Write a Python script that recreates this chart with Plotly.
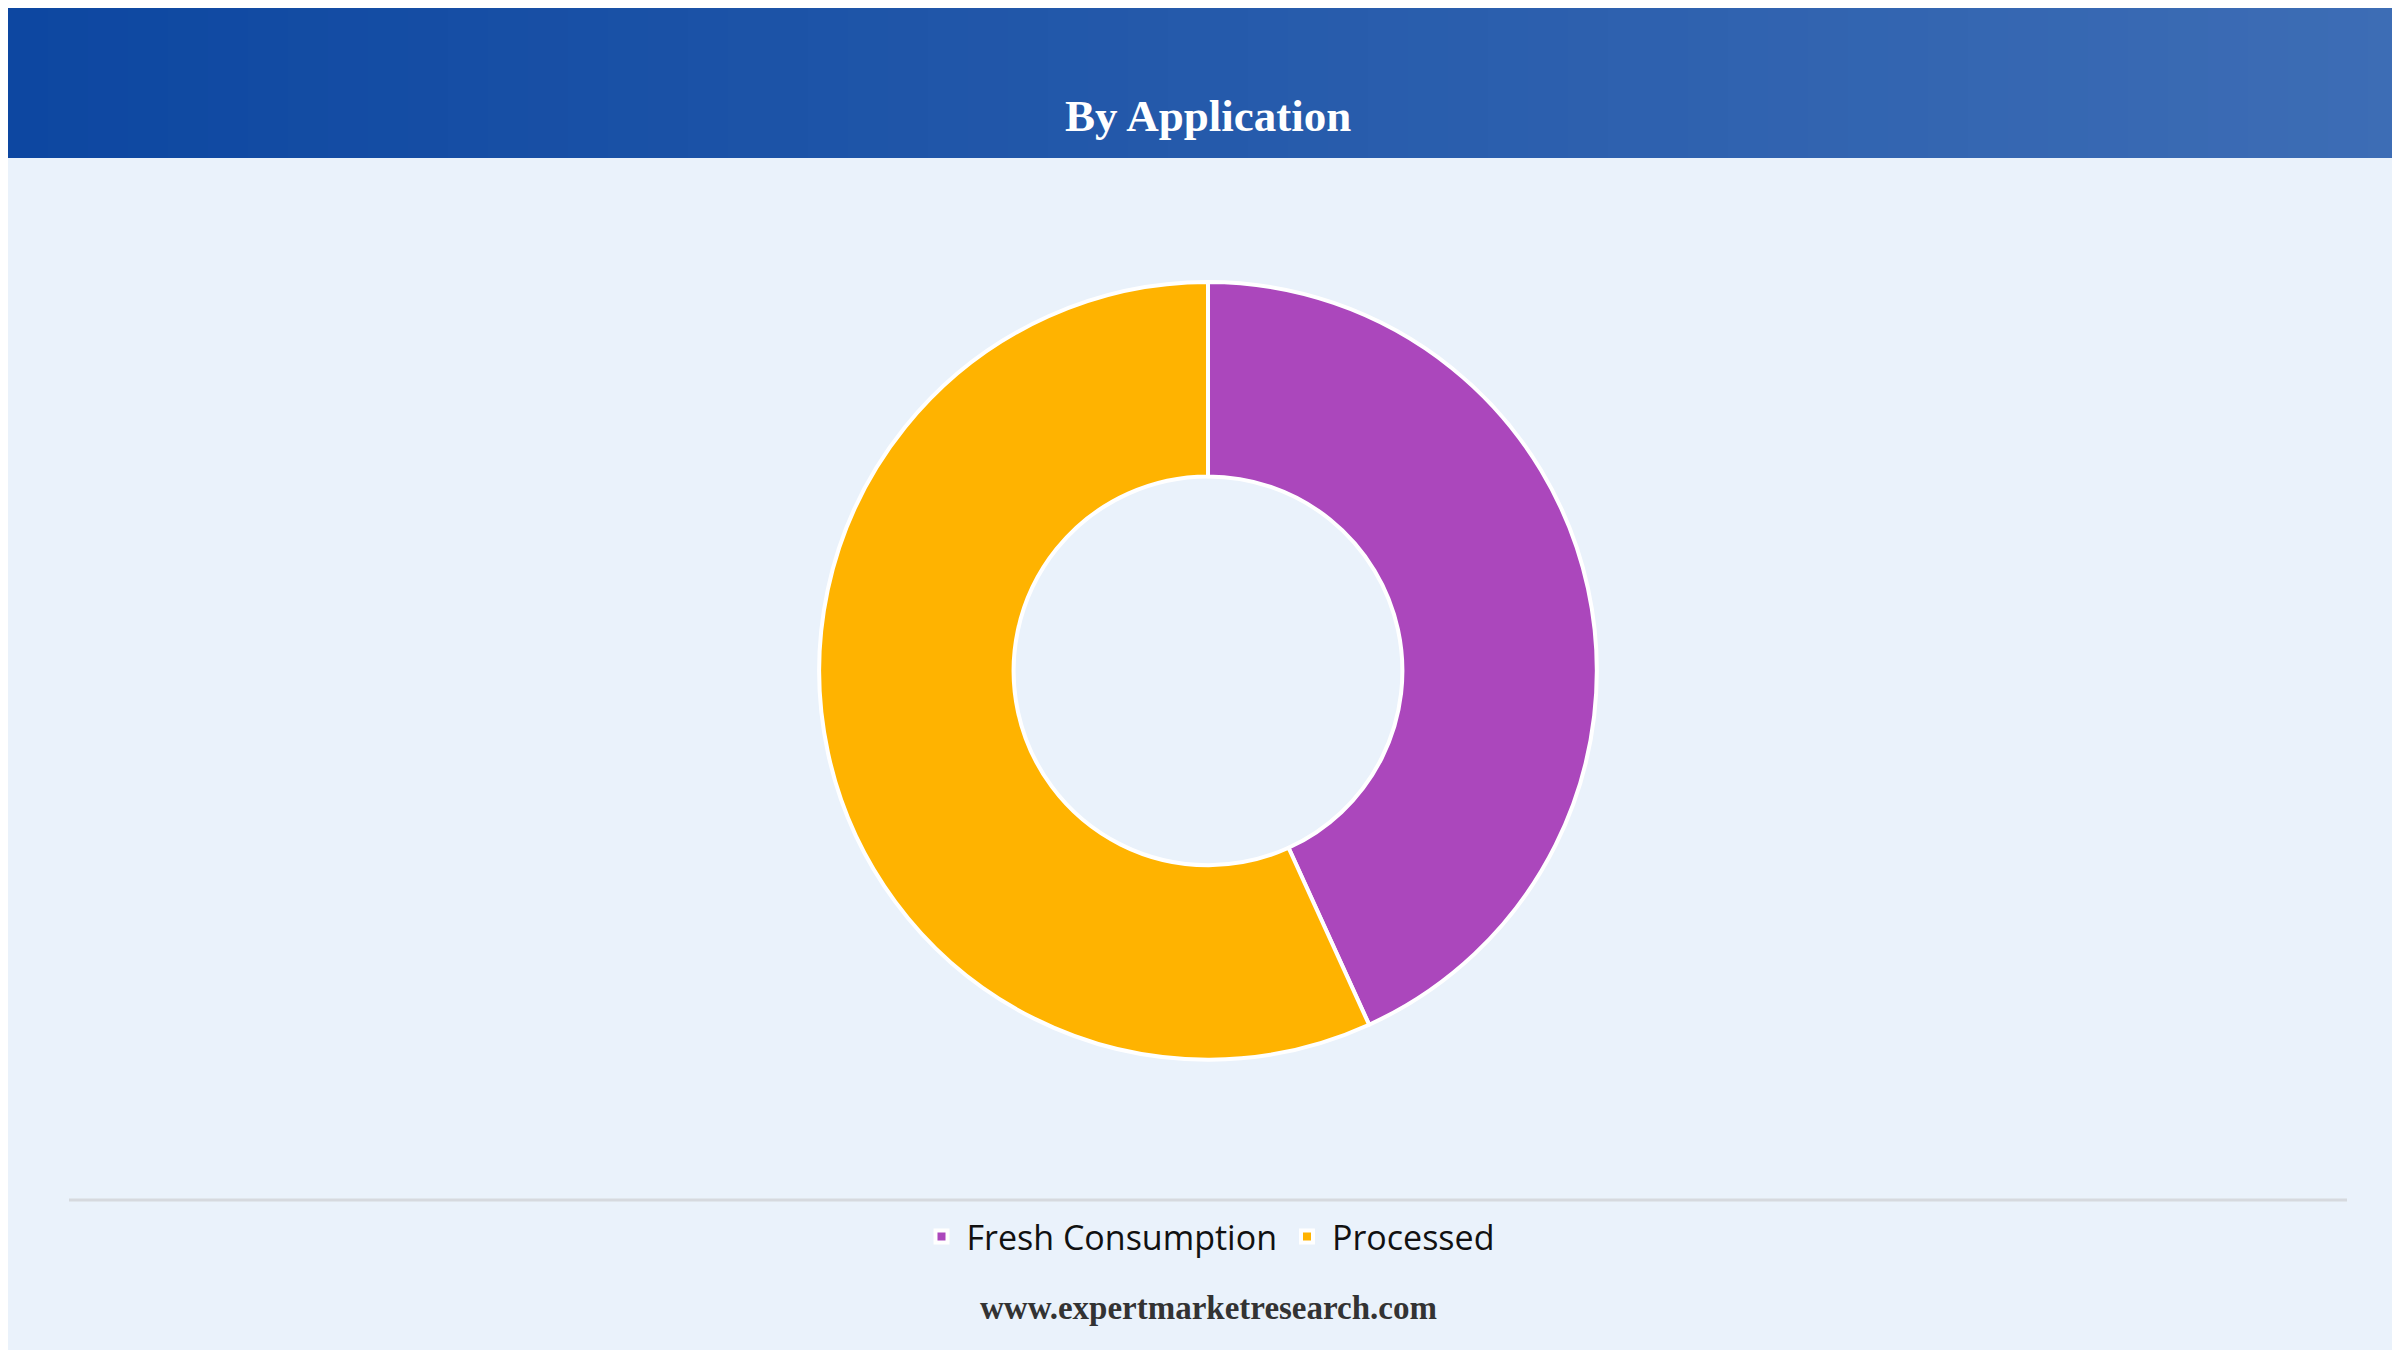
import plotly.graph_objects as go

labels = ["Fresh Consumption", "Processed"]
values = [43.2, 56.8]
colors = ["#AB47BC", "#FFB300"]

W, H = 2400, 1350

fig = go.Figure(go.Pie(
    labels=labels, values=values, hole=0.5, sort=False, direction="clockwise", rotation=0,
    marker=dict(colors=colors, line=dict(color="white", width=4)),
    textinfo="none", hoverinfo="label+percent",
    domain=dict(x=[0, 1], y=[0.221, 0.797]),
))

# header gradient band
shapes = []
n = 60
c0, c1 = (13, 71, 161), (61, 109, 181)
for i in range(n):
    t = i / (n - 1)
    col = "rgb(%d,%d,%d)" % tuple(round(a + (b - a) * t) for a, b in zip(c0, c1))
    shapes.append(dict(type="rect", xref="paper", yref="paper", x0=i / n, x1=(i + 1) / n + 0.002,
                       y0=1 - 150 / H, y1=1, fillcolor=col, line=dict(width=0), layer="below"))
shapes.append(dict(type="line", xref="paper", yref="paper", x0=61 / W, x1=2339 / W,
                   y0=1 - 1192 / H, y1=1 - 1192 / H, line=dict(color="#D6D9DE", width=3)))

fig.update_layout(
    width=W, height=H, margin=dict(l=0, r=0, t=0, b=0),
    paper_bgcolor="#EAF2FB", plot_bgcolor="#EAF2FB",
    shapes=shapes,
    showlegend=True,
    legend=dict(orientation="h", x=0.5, xanchor="center", y=1 - 1229 / H, yanchor="middle",
                font=dict(family="Open Sans", size=34, color="#111"), itemwidth=40,
                bgcolor="rgba(0,0,0,0)"),
    annotations=[
        dict(text="<b>By Application</b>", x=0.5, y=1 - 81 / H, xref="paper", yref="paper",
             showarrow=False, font=dict(family="Liberation Serif", size=45, color="white")),
        dict(text="<b>www.expertmarketresearch.com</b>", x=0.5, y=1 - 1320 / H, xref="paper", yref="paper",
             showarrow=False, font=dict(family="Liberation Serif", size=33, color="#333")),
    ],
)

fig.write_html("out.html")
